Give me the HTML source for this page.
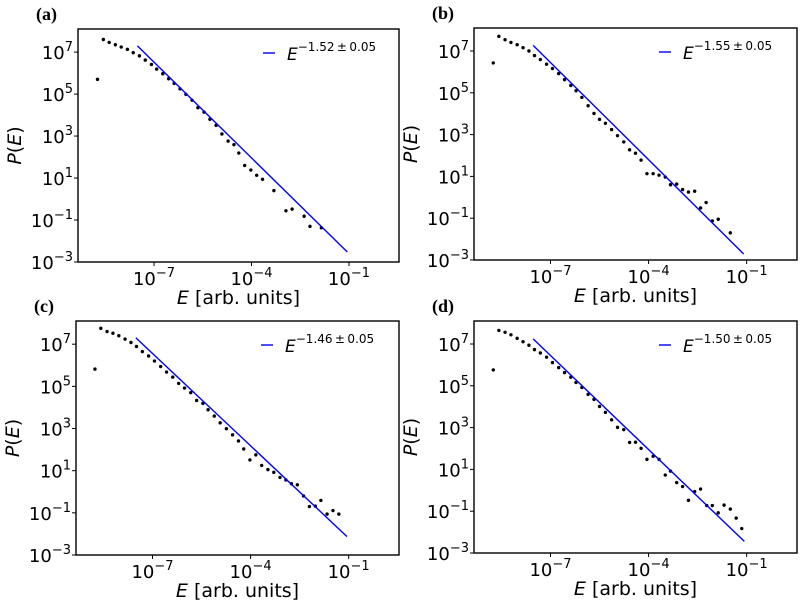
<!DOCTYPE html>
<html><head><meta charset="utf-8"><style>
html,body{margin:0;padding:0;background:#fff;}
svg{display:block;font-family:"DejaVu Sans","Liberation Sans",sans-serif;}
</style></head><body>
<svg id="fig" width="800" height="606" viewBox="0 0 800 606" xmlns="http://www.w3.org/2000/svg"></svg>
<script>
// ---- data (log10 values) ----
const xTickExps = [-7, -4, -1];
const yTickExps = [-3, -1, 1, 3, 5, 7];
const panelLabels = ["(a)", "(b)", "(c)", "(d)"];
const fitExponents = [-1.52, -1.55, -1.46, -1.50];
const fitIntercepts = [-4.12, -4.40, -3.66, -4.05];
const fitLabels = ["\u22121.52\u2009\u00b1\u20090.05", "\u22121.55\u2009\u00b1\u20090.05", "\u22121.46\u2009\u00b1\u20090.05", "\u22121.50\u2009\u00b1\u20090.05"];
const fitRangeA = [-7.51, -1.05];
const fitRangeB = [-7.53, -1.09];
const fitRangeC = [-7.51, -1.05];
const fitRangeD = [-7.53, -1.07];

const logEA = [-8.74,-8.56,-8.38,-8.19,-8.01,-7.82,-7.64,-7.45,-7.27,-7.08,-6.92,-6.73,-6.55,-6.38,-6.20,-6.02,-5.83,-5.65,-5.46,-5.28,-5.09,-4.91,-4.72,-4.54,-4.39,-4.21,-4.02,-3.84,-3.66,-3.31,-2.94,-2.75,-2.38,-2.20,-1.85];
const logPA = [5.70,7.60,7.46,7.35,7.24,7.13,6.97,6.82,6.62,6.41,6.19,5.97,5.73,5.51,5.25,4.99,4.71,4.35,4.14,3.80,3.51,3.10,2.76,2.59,2.19,1.60,1.38,1.13,0.94,0.40,-0.56,-0.48,-0.82,-1.30,-1.37];

const logEB = [-8.75,-8.58,-8.39,-8.21,-8.02,-7.84,-7.66,-7.49,-7.31,-7.12,-6.94,-6.75,-6.57,-6.38,-6.22,-6.04,-5.85,-5.67,-5.50,-5.32,-5.13,-4.95,-4.76,-4.58,-4.40,-4.23,-4.05,-3.86,-3.68,-3.49,-3.33,-3.14,-2.96,-2.78,-2.59,-2.41,-2.24,-2.05,-1.87,-1.50];
const logPB = [6.43,7.70,7.54,7.41,7.30,7.16,7.00,6.78,6.59,6.37,6.16,5.92,5.63,5.35,5.10,4.78,4.38,4.01,3.73,3.54,3.24,2.95,2.65,2.27,2.11,1.78,1.13,1.13,1.06,0.97,0.60,0.63,0.37,0.25,0.29,-0.51,-0.25,-1.13,-1.05,-1.70];

const logEC = [-8.76,-8.58,-8.39,-8.21,-8.03,-7.84,-7.66,-7.49,-7.31,-7.12,-6.94,-6.75,-6.57,-6.38,-6.20,-6.02,-5.83,-5.65,-5.46,-5.30,-5.11,-4.93,-4.74,-4.55,-4.37,-4.21,-4.02,-3.84,-3.66,-3.47,-3.29,-3.10,-2.92,-2.75,-2.57,-2.38,-2.20,-2.02,-1.85,-1.66,-1.48,-1.30];
const logPC = [5.82,7.75,7.60,7.52,7.40,7.24,7.08,6.89,6.65,6.44,6.20,5.94,5.68,5.44,5.14,4.92,4.70,4.33,4.19,3.89,3.59,3.27,2.99,2.70,2.41,2.03,1.51,1.75,1.25,1.05,0.92,0.68,0.56,0.38,0.33,-0.20,-0.70,-0.68,-0.41,-1.06,-0.89,-1.06];

const logED = [-8.75,-8.58,-8.39,-8.21,-8.02,-7.84,-7.66,-7.49,-7.31,-7.12,-6.94,-6.75,-6.57,-6.38,-6.22,-6.04,-5.85,-5.67,-5.50,-5.32,-5.13,-4.95,-4.76,-4.58,-4.40,-4.23,-4.05,-3.86,-3.68,-3.49,-3.33,-3.14,-2.96,-2.78,-2.59,-2.41,-2.22,-2.05,-1.87,-1.69,-1.50,-1.32,-1.15];
const logPD = [5.76,7.65,7.56,7.44,7.27,7.11,6.94,6.73,6.57,6.37,6.11,5.87,5.63,5.41,5.16,4.92,4.59,4.35,4.01,3.73,3.37,3.01,2.90,2.29,2.30,2.01,1.48,1.63,1.48,0.73,0.92,0.37,0.18,-0.48,-0.06,0.06,-0.73,-0.73,-1.08,-0.71,-0.90,-1.33,-1.83];

const panels = [
 {id:"a", box:{x:78,y:29,w:321,h:233}, E:logEA, P:logPA, fr:fitRangeA},
 {id:"b", box:{x:474,y:28,w:323,h:232}, E:logEB, P:logPB, fr:fitRangeB},
 {id:"c", box:{x:76,y:321,w:323,h:234}, E:logEC, P:logPC, fr:fitRangeC},
 {id:"d", box:{x:474,y:321,w:323,h:232}, E:logED, P:logPD, fr:fitRangeD}
];
const XMIN=-9.34, XMAX=0.54, YMIN=-3, YMAX=8.1;
const NS="http://www.w3.org/2000/svg";
const svg=document.getElementById("fig");
function mk(tag, attrs, parent){const e=document.createElementNS(NS,tag);for(const k in attrs)e.setAttribute(k,attrs[k]);(parent||svg).appendChild(e);return e;}

panels.forEach((p,i)=>{
  const b=p.box;
  const sx=v=>b.x+(v-XMIN)/(XMAX-XMIN)*b.w;
  const sy=v=>b.y+b.h-(v-YMIN)/(YMAX-YMIN)*b.h;
  const g=mk("g",{});
  
  
  const pl=mk("text",{x:b.x-42,y:b.y-9,"font-family":"Liberation Serif, serif","font-weight":"bold","font-size":"18"},g);
  pl.textContent=panelLabels[i];
  
  
  const dg=mk("g",{},g);
  
  
  p.E.forEach((e,k)=>{
    const c=mk("circle",{cx:sx(e),cy:sy(p.P[k]),r:1.7,fill:"#000"},dg);
    
    
  });
  const f=(x)=>fitIntercepts[i]+fitExponents[i]*x;
  const ln=mk("line",{x1:sx(p.fr[0]),y1:sy(f(p.fr[0])),x2:sx(p.fr[1]),y2:sy(f(p.fr[1])),stroke:"#0000ff","stroke-width":1.4},g);
  
  
  const fr=mk("rect",{x:b.x,y:b.y,width:b.w,height:b.h,fill:"none",stroke:"#000","stroke-width":1.4},g);
  
  
  xTickExps.forEach(t=>{
    const X=sx(t);
    mk("line",{x1:X,y1:b.y+b.h,x2:X,y2:b.y+b.h+4,stroke:"#000","stroke-width":1},g);
    const tx=mk("text",{x:X,y:b.y+b.h+23,"text-anchor":"middle","font-size":"18"},g);
    tx.innerHTML='10<tspan dy="-8" font-size="13">\u2212'+(-t)+'</tspan>';
    
    
  });
  yTickExps.forEach(t=>{
    const Y=sy(t);
    mk("line",{x1:b.x-4,y1:Y,x2:b.x,y2:Y,stroke:"#000","stroke-width":1},g);
    const ty=mk("text",{x:b.x-5,y:Y+7,"text-anchor":"end","font-size":"18"},g);
    ty.innerHTML='10<tspan dy="-8" font-size="13">'+(t<0?'\u2212'+(-t):t)+'</tspan>';
    
    
  });
  const xl=mk("text",{x:b.x+b.w/2,y:b.y+b.h+42,"text-anchor":"middle","font-size":"19"},g);
  xl.innerHTML='<tspan font-style="italic">E</tspan> [arb. units]';
  
  
  const yc=b.y+b.h/2;
  const yl=mk("text",{x:0,y:0,"text-anchor":"middle","font-size":"19",transform:"translate("+(b.x-57)+","+yc+") rotate(-90)"},g);
  yl.innerHTML='<tspan font-style="italic">P</tspan>(<tspan font-style="italic">E</tspan>)';
  
  
  const lg=mk("g",{},g);
  
  
  mk("line",{x1:b.x+185,y1:b.y+24,x2:b.x+197,y2:b.y+24,stroke:"#0000ff","stroke-width":1.4},lg);
  const lt=mk("text",{x:b.x+209,y:b.y+31,"font-size":"17"},lg);
  lt.innerHTML='<tspan font-style="italic">E</tspan><tspan dy="-9" font-size="12">'+fitLabels[i]+'</tspan>';
});
</script>
</body></html>
